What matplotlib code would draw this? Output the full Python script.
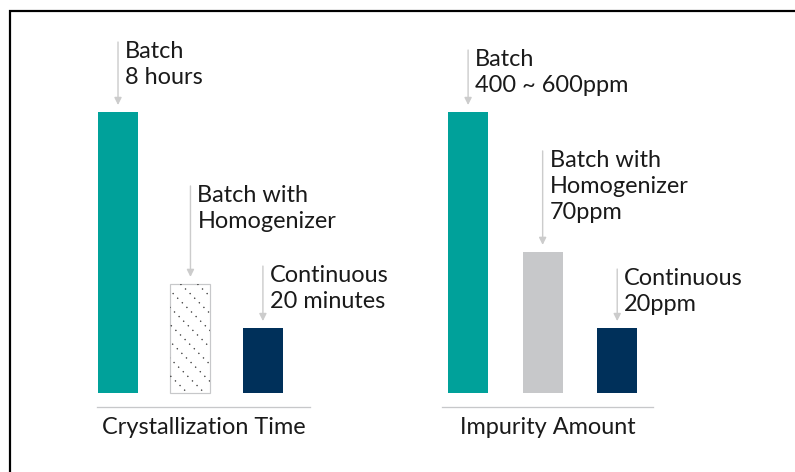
import numpy as np
import matplotlib
matplotlib.use("Agg")
import matplotlib.pyplot as plt
from matplotlib.patches import Rectangle

plt.rcParams['font.family'] = ['Lato', 'DejaVu Sans']

# data (schematic heights, relative to the batch process = 100)
time_labels = ["Batch\n8 hours", "Batch with\nHomogenizer", "Continuous\n20 minutes"]
time_values = [100, 38.8, 23.1]
impurity_labels = ["Batch\n400 ~ 600ppm", "Batch with\nHomogenizer\n70ppm", "Continuous\n20ppm"]
impurity_values = [100, 50.2, 23.1]
group_titles = ["Crystallization Time", "Impurity Amount"]

# arrow lengths above each bar (points, 1pt = 1px at dpi 72)
time_arrows = [63, 91, 55]
impurity_arrows = [55, 94, 52]

TEAL = "#00a19a"
NAVY = "#00305a"
LIGHT = "#c7c8ca"
ARROW = "#cccccc"
FS = 23.5

W, H = 795, 472
fig = plt.figure(figsize=(W / 72, H / 72), dpi=72)
fig.patch.set_facecolor("white")

# frame that runs off the right / bottom edge
fig.patches.append(Rectangle((10 / W, -0.1), 1.2, 1.1 - 11 / H, transform=fig.transFigure,
                             fill=False, edgecolor="black", linewidth=2.2))


def hatch_bar(ax, bar):
    # dotted diagonal hatch, clipped to the bar
    x0, y0 = ax.transData.transform((bar.get_x(), bar.get_y()))
    x1, y1 = ax.transData.transform((bar.get_x() + bar.get_width(), bar.get_y() + bar.get_height()))
    inv = ax.transData.inverted()
    step = 17
    for k in np.arange(x0 - (y1 - y0), x1 + step, step):
        p = inv.transform([(k, y1), (k + (y1 - y0) + 20, y0 - 20)])
        ln, = ax.plot(p[:, 0], p[:, 1], color="#333333", lw=1.3, ls=(0, (1, 4)))
        ln.set_clip_path(bar)


def draw_group(ax, values, labels, arrows, title, colors, xlim, width):
    ax.set_xlim(*xlim)
    ax.set_ylim(-5, 129.2)
    x = np.arange(len(values))
    bars = ax.bar(x, values, width=width, color=colors, zorder=2)
    for sp in ["top", "right", "left"]:
        ax.spines[sp].set_visible(False)
    ax.spines["bottom"].set_color(LIGHT)
    ax.spines["bottom"].set_linewidth(1.3)
    ax.set_xticks([])
    ax.set_yticks([])
    ax.set_xlabel(title, fontsize=FS, color="#1a1a1a", labelpad=10)
    for i, (v, lab, L) in enumerate(zip(values, labels, arrows)):
        ax.annotate("", xy=(i, v), xycoords="data", xytext=(0, L + 7), textcoords="offset points",
                    arrowprops=dict(arrowstyle="-|>,head_length=0.6,head_width=0.3", color=ARROW,
                                    lw=1.4, shrinkA=0, shrinkB=7))
        ax.annotate(lab, xy=(i, v), xycoords="data", xytext=(7, L + 8), textcoords="offset points",
                    ha="left", va="top", fontsize=FS, color="#1a1a1a", linespacing=1.3)
    return bars


ax1 = fig.add_axes([97 / W, 1 - 407 / H, 213 / W, 377 / H])
ax1.patch.set_alpha(0)
bars1 = draw_group(ax1, time_values, time_labels, time_arrows, group_titles[0],
                   [TEAL, "white", NAVY], (-0.29, 2.65), 40 / 72.5)
bars1[1].set_edgecolor(LIGHT)
bars1[1].set_linewidth(1.2)
hatch_bar(ax1, bars1[1])

ax2 = fig.add_axes([442 / W, 1 - 407 / H, 211 / W, 377 / H])
ax2.patch.set_alpha(0)
draw_group(ax2, impurity_values, impurity_labels, impurity_arrows, group_titles[1],
           [TEAL, LIGHT, NAVY], (-0.35, 2.48), 40 / 74.5)

fig.savefig("out.png", dpi=72, facecolor="white")
